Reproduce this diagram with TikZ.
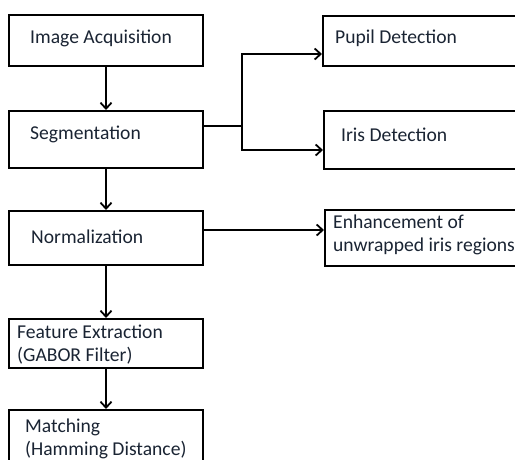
\documentclass[tikz,border=0pt]{standalone}
\usepackage{fontspec}
\setmainfont{Carlito}
\usetikzlibrary{arrows.meta}
\definecolor{txt}{HTML}{1A2433}
\begin{document}
\begin{tikzpicture}[x=1pt,y=-1pt,
  box/.style={draw=black,line width=2pt,rectangle,inner sep=0pt,minimum width=#1},
  lbl/.style={anchor=west,inner sep=0pt,align=left,text=txt,font=\fontsize{19.6}{23}\selectfont},
  arr/.style={line width=2pt,-{Straight Barb[length=6pt,width=11pt,line width=1.8pt]}},
  ln/.style={line width=2pt}]
\clip (0,0) rectangle (515,459);
\fill[white] (0,0) rectangle (515,459);
% left column
\node[box=194pt,minimum height=51pt] (ia) at (106,40.5) {};
\node[box=194pt,minimum height=57pt] (seg) at (106,139.5) {};
\node[box=194pt,minimum height=54pt] (norm) at (106,238) {};
\node[box=194pt,minimum height=49pt] (fe) at (106,343.5) {};
\node[box=194pt,minimum height=65pt] (match) at (106,442.5) {};
% right column
\node[box=217pt,minimum height=50pt] (pupil) at (431.5,41) {};
\node[box=216pt,minimum height=58pt] (iris) at (432,140) {};
\node[box=215pt,minimum height=56pt] (enh) at (432.5,238) {};
% labels
\node[lbl] (tia) at (30,38) {Image Acquisition};
\node[lbl] (tseg) at (30,134) {Segmentation};
\node[lbl] (tnorm) at (31,237) {Normalization};
\node[lbl] (tfe) at (17,344.5) {Feature Extraction\\(GABOR Filter)};
\node[lbl] (tmatch) at (25,438.5) {Matching\\(Hamming Distance)};
\node[lbl] (tpupil) at (335,38) {Pupil Detection};
\node[lbl] (tiris) at (341,135) {Iris Detection};
\node[lbl] (tenh) at (333,235) {Enhancement of\\unwrapped iris regions};
% vertical arrows
\draw[arr] (ia) -- (seg);
\draw[arr] (seg) -- (norm);
\draw[arr] (norm) -- (fe);
\draw[arr] (fe) -- (match);
% branch
\coordinate (j) at (242,126);
\coordinate (jt) at (242,54);
\coordinate (jb) at (242,150);
\draw[ln] (seg.east |- j) -- (j);
\draw[arr] (j) -- (jt) -- (jt -| pupil.west);
\draw[arr] (j) -- (jb) -- (jb -| iris.west);
\coordinate (ny) at (0,230);
\draw[arr] (norm.east |- ny) -- (enh.west |- ny);
\end{tikzpicture}
\end{document}
